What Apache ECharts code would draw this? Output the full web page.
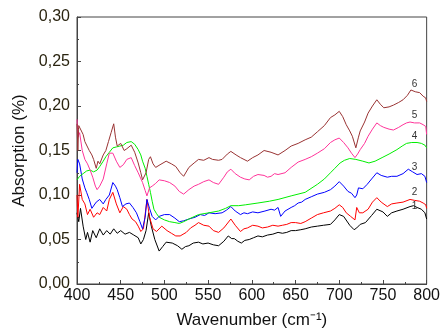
<!DOCTYPE html>
<html>
<head>
<meta charset="utf-8">
<script src="https://cdn.jsdelivr.net/npm/echarts@6/dist/echarts.min.js"></script>
<style>
  html, body { margin: 0; padding: 0; background: #fff; }
  #chart { width: 443px; height: 334px; }
</style>
</head>
<body>
<div id="chart"></div>
<script>
// spectra, [wavenumber, absorption]
const curve1 = [[400,0.080],[402,0.070],[404,0.085],[407,0.065],[410,0.050],[412,0.058],[415,0.047],[418,0.060],[422,0.052],[426,0.062],[430,0.055],[434,0.060],[438,0.056],[442,0.062],[446,0.057],[450,0.060],[455,0.056],[460,0.058],[465,0.055],[470,0.052],[473,0.045],[476,0.050],[479,0.060],[482,0.080],[485,0.065],[489,0.050],[494,0.037],[498,0.042],[502,0.047],[509,0.046],[515,0.043],[520,0.039],[524,0.042],[528,0.043],[533,0.046],[539,0.047],[544,0.045],[550,0.046],[556,0.044],[562,0.043],[568,0.048],[573,0.054],[577,0.051],[580,0.051],[584,0.048],[588,0.046],[592,0.049],[597,0.050],[602,0.052],[607,0.054],[612,0.053],[618,0.055],[624,0.056],[630,0.058],[635,0.057],[640,0.058],[645,0.060],[650,0.060],[656,0.061],[661,0.062],[668,0.064],[675,0.065],[682,0.066],[690,0.067],[695,0.072],[700,0.078],[705,0.076],[712,0.066],[717,0.061],[720,0.063],[724,0.067],[730,0.069],[737,0.077],[743,0.084],[750,0.081],[755,0.076],[760,0.080],[766,0.082],[773,0.084],[781,0.087],[785,0.088],[789,0.086],[794,0.084],[798,0.080],[800,0.073]];
const curve2 = [[400,0.100],[401,0.075],[403,0.112],[406,0.095],[409,0.090],[412,0.078],[415,0.084],[419,0.075],[423,0.080],[426,0.078],[430,0.086],[434,0.082],[437,0.095],[441,0.103],[445,0.090],[449,0.080],[453,0.087],[457,0.084],[460,0.078],[463,0.073],[467,0.070],[470,0.065],[473,0.059],[476,0.062],[480,0.095],[483,0.075],[487,0.062],[491,0.059],[497,0.065],[503,0.060],[508,0.057],[513,0.054],[518,0.054],[525,0.058],[530,0.063],[535,0.066],[539,0.069],[545,0.066],[551,0.065],[556,0.060],[562,0.058],[568,0.063],[576,0.073],[581,0.066],[587,0.059],[591,0.062],[595,0.063],[601,0.066],[607,0.065],[612,0.063],[618,0.064],[624,0.066],[630,0.065],[635,0.066],[640,0.067],[645,0.069],[650,0.069],[656,0.068],[661,0.070],[668,0.074],[675,0.078],[682,0.080],[690,0.082],[695,0.085],[700,0.089],[704,0.086],[708,0.080],[713,0.076],[718,0.072],[720,0.086],[723,0.080],[727,0.080],[733,0.084],[738,0.092],[743,0.097],[748,0.092],[755,0.087],[760,0.090],[766,0.091],[773,0.092],[781,0.095],[786,0.094],[792,0.093],[796,0.091],[799,0.089],[800,0.085]];
const curve3 = [[400,0.125],[401,0.140],[403,0.135],[406,0.118],[409,0.108],[411,0.103],[414,0.095],[417,0.085],[419,0.087],[422,0.092],[426,0.095],[430,0.090],[433,0.095],[437,0.100],[441,0.114],[444,0.110],[446,0.106],[449,0.097],[452,0.087],[456,0.090],[460,0.091],[464,0.086],[468,0.080],[472,0.070],[475,0.062],[478,0.075],[480,0.095],[483,0.085],[486,0.076],[490,0.072],[494,0.076],[500,0.078],[506,0.078],[512,0.074],[517,0.070],[522,0.071],[528,0.073],[535,0.075],[541,0.078],[546,0.077],[551,0.080],[558,0.079],[566,0.080],[571,0.083],[576,0.087],[581,0.082],[587,0.078],[591,0.080],[595,0.079],[601,0.081],[607,0.080],[615,0.082],[622,0.084],[626,0.083],[630,0.086],[633,0.076],[638,0.082],[645,0.086],[649,0.088],[653,0.091],[657,0.092],[661,0.095],[668,0.098],[675,0.101],[683,0.103],[690,0.106],[695,0.110],[700,0.115],[705,0.110],[710,0.104],[714,0.102],[718,0.097],[720,0.100],[722,0.108],[727,0.107],[732,0.112],[737,0.118],[743,0.125],[748,0.122],[755,0.120],[760,0.121],[766,0.121],[773,0.124],[779,0.129],[784,0.126],[789,0.123],[794,0.124],[798,0.121],[800,0.114]];
const curve4 = [[400,0.117],[403,0.121],[407,0.124],[411,0.127],[415,0.128],[419,0.126],[423,0.128],[426,0.132],[430,0.138],[433,0.143],[437,0.148],[441,0.153],[445,0.154],[449,0.155],[453,0.156],[457,0.159],[462,0.160],[466,0.157],[470,0.151],[473,0.145],[475,0.138],[478,0.130],[480,0.121],[482,0.112],[484,0.103],[486,0.093],[488,0.084],[491,0.079],[494,0.075],[500,0.072],[506,0.070],[512,0.069],[517,0.068],[522,0.070],[528,0.073],[539,0.078],[551,0.080],[562,0.082],[570,0.085],[576,0.088],[585,0.088],[593,0.089],[607,0.091],[620,0.093],[630,0.095],[645,0.099],[661,0.103],[675,0.112],[683,0.118],[690,0.125],[695,0.130],[701,0.136],[706,0.139],[712,0.141],[719,0.140],[727,0.138],[734,0.136],[741,0.138],[749,0.142],[757,0.146],[766,0.151],[772,0.155],[777,0.158],[783,0.159],[789,0.159],[794,0.158],[798,0.156],[800,0.153]];
const curve5 = [[400,0.185],[401,0.165],[403,0.170],[406,0.150],[409,0.140],[412,0.135],[415,0.128],[418,0.120],[421,0.110],[423,0.106],[426,0.110],[430,0.118],[434,0.135],[437,0.147],[441,0.147],[445,0.138],[449,0.131],[453,0.134],[457,0.140],[462,0.142],[466,0.133],[470,0.125],[475,0.114],[478,0.105],[480,0.099],[483,0.108],[486,0.110],[490,0.113],[494,0.117],[500,0.116],[506,0.114],[512,0.110],[517,0.104],[522,0.101],[528,0.106],[534,0.110],[539,0.112],[545,0.115],[551,0.117],[556,0.114],[562,0.112],[568,0.120],[572,0.126],[576,0.129],[581,0.124],[587,0.120],[592,0.118],[597,0.117],[602,0.121],[607,0.123],[614,0.122],[618,0.120],[622,0.121],[626,0.124],[630,0.123],[638,0.125],[645,0.131],[653,0.137],[661,0.140],[668,0.143],[675,0.147],[683,0.152],[690,0.159],[695,0.162],[700,0.164],[705,0.159],[710,0.153],[714,0.147],[718,0.142],[721,0.146],[724,0.151],[729,0.158],[733,0.166],[738,0.174],[743,0.181],[747,0.178],[751,0.176],[757,0.174],[762,0.173],[768,0.176],[773,0.179],[777,0.181],[781,0.182],[786,0.181],[792,0.181],[796,0.179],[799,0.177],[800,0.168]];
const curve6 = [[400,0.180],[401,0.150],[402,0.178],[404,0.176],[407,0.168],[409,0.160],[411,0.158],[414,0.150],[417,0.145],[419,0.140],[422,0.130],[424,0.138],[426,0.135],[430,0.145],[433,0.150],[436,0.160],[439,0.170],[442,0.180],[444,0.165],[446,0.155],[450,0.158],[454,0.150],[457,0.152],[462,0.156],[466,0.148],[470,0.136],[473,0.125],[475,0.117],[479,0.125],[482,0.140],[484,0.143],[487,0.135],[490,0.131],[495,0.134],[502,0.138],[508,0.135],[513,0.132],[518,0.125],[522,0.121],[528,0.131],[534,0.136],[539,0.140],[545,0.139],[551,0.142],[555,0.140],[562,0.139],[566,0.140],[572,0.146],[576,0.149],[582,0.145],[587,0.142],[595,0.138],[601,0.142],[607,0.145],[614,0.150],[622,0.148],[630,0.145],[638,0.150],[645,0.155],[653,0.158],[661,0.162],[668,0.165],[675,0.171],[683,0.178],[690,0.187],[695,0.190],[700,0.194],[704,0.188],[708,0.179],[712,0.172],[715,0.166],[719,0.153],[722,0.165],[724,0.172],[729,0.182],[733,0.192],[738,0.200],[743,0.207],[747,0.202],[751,0.198],[757,0.199],[762,0.201],[768,0.204],[773,0.207],[778,0.212],[782,0.218],[787,0.216],[792,0.215],[796,0.211],[799,0.209],[800,0.205]];

const curveNames = ["1", "2", "3", "4", "5", "6"];
const curveColors = ["#000000", "#ff0000", "#0000ff", "#00ee00", "#ff3399", "#993333"];
// where the curve numbers sit, in data units
const labelX = 786;
const labelY = [0.087, 0.103, 0.131, 0.166, 0.190, 0.224];

const curves = [curve1, curve2, curve3, curve4, curve5, curve6];
const font = "Liberation Sans, Arial, sans-serif";

const chart = echarts.init(document.getElementById("chart"));
chart.setOption({
  animation: false,
  grid: {
    left: 77, right: 13, top: 17, bottom: 49,
    show: true, borderColor: "#444", borderWidth: 1,
  },
  xAxis: {
    type: "value",
    min: 400, max: 800, interval: 50,
    name: "Wavenumber (cm\u207B\u00B9)",
    nameLocation: "middle", nameGap: 28,
    nameTextStyle: { fontFamily: font, fontSize: 17, color: "#111" },
    axisLine: { show: true, onZero: false, lineStyle: { color: "#444" } },
    axisTick: { show: true, inside: true, length: 4, lineStyle: { color: "#444" } },
    minorTick: { show: true, splitNumber: 2, length: 2, lineStyle: { color: "#444" } },
    axisLabel: { fontFamily: font, fontSize: 16, color: "#111", margin: 4 },
    splitLine: { show: false },
  },
  yAxis: {
    type: "value",
    min: 0, max: 0.3, interval: 0.05,
    name: "Absorption (%)",
    nameLocation: "middle", nameGap: 48, nameRotate: 90,
    nameTextStyle: { fontFamily: font, fontSize: 17, color: "#111" },
    axisLine: { show: true, lineStyle: { color: "#444" } },
    axisTick: { show: true, inside: true, length: 4, lineStyle: { color: "#444" } },
    minorTick: { show: true, splitNumber: 2, length: 2, lineStyle: { color: "#444" } },
    axisLabel: {
      fontFamily: font, fontSize: 16, color: "#2a2410", margin: 7,
      formatter: v => v.toFixed(2).replace(".", ","),
    },
    splitLine: { show: false },
  },
  series: curves.map((c, i) => ({
    type: "line",
    name: curveNames[i],
    data: c,
    showSymbol: false,
    lineStyle: { color: curveColors[i], width: 1 },
    z: 2 + i,
    markPoint: {
      symbol: "circle", symbolSize: 0, silent: true,
      label: {
        show: true, position: "inside", formatter: curveNames[i],
        fontFamily: font, fontSize: 10, color: "#333",
      },
      data: [{ coord: [labelX, labelY[i]] }],
    },
  })),
});
</script>
</body>
</html>
